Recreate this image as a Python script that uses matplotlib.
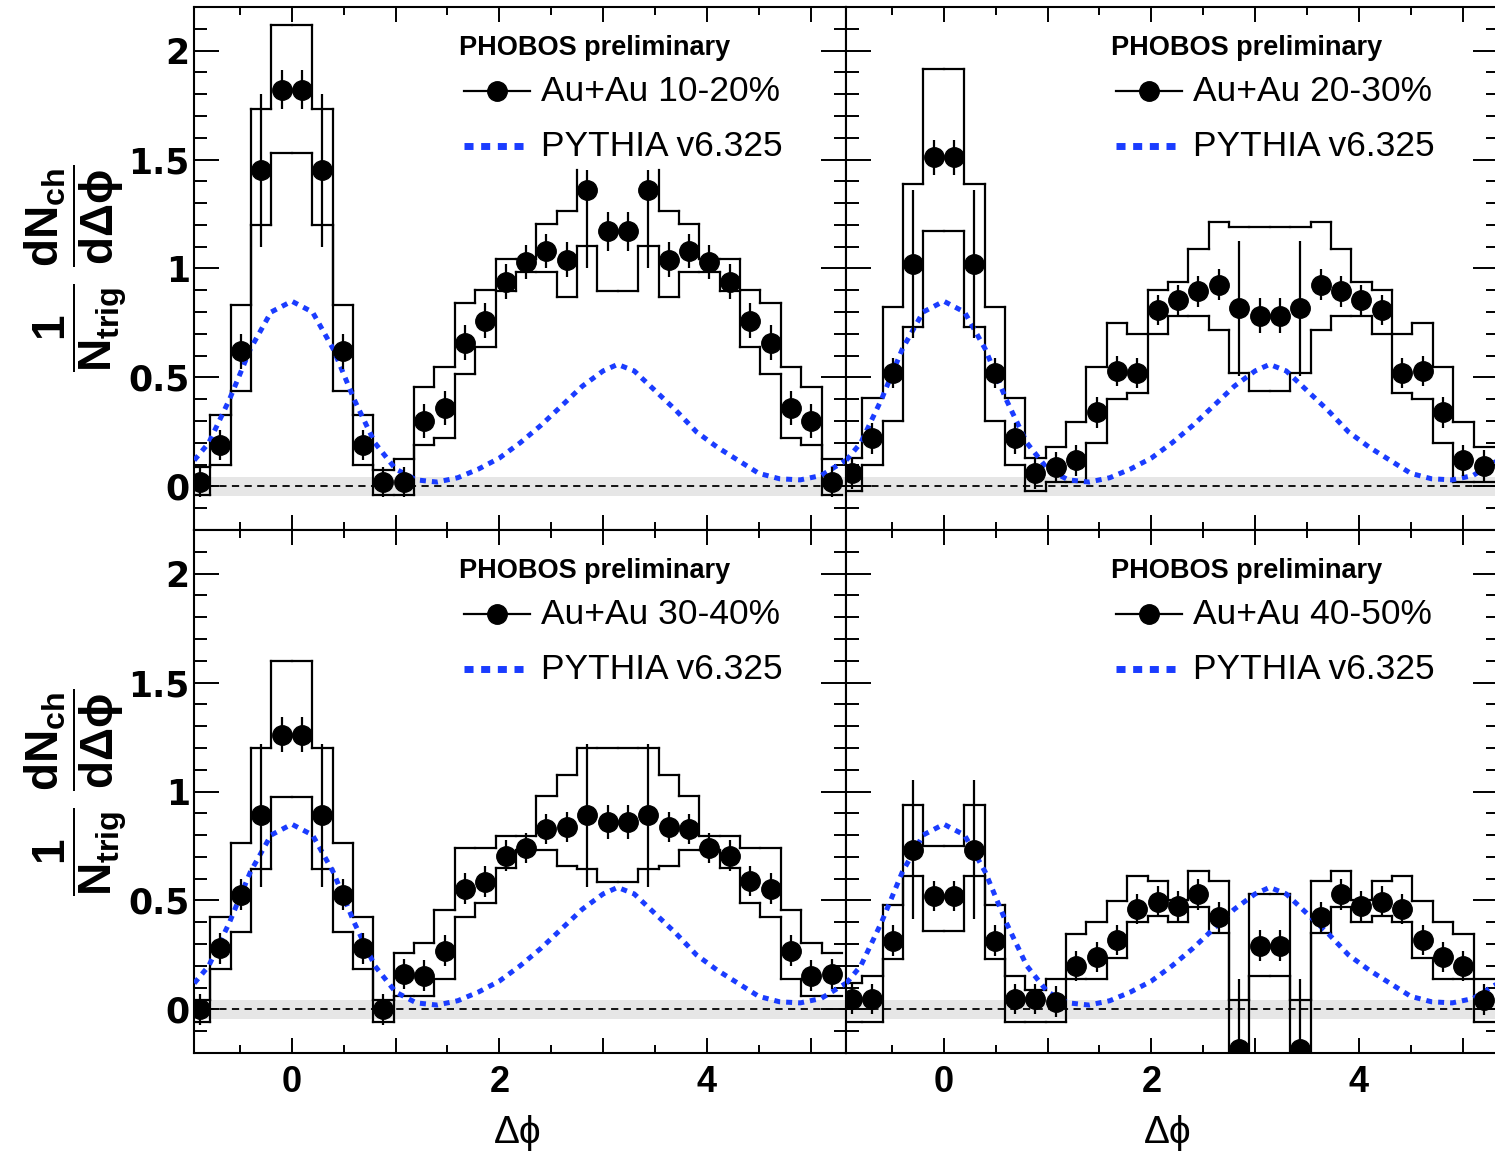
import numpy as np
import matplotlib
matplotlib.use('Agg')
import matplotlib.pyplot as plt
from matplotlib.ticker import MultipleLocator, FuncFormatter

plt.rcParams['font.family'] = ['Liberation Sans', 'DejaVu Sans']
plt.rcParams['mathtext.fontset'] = 'custom'
plt.rcParams['mathtext.rm'] = 'Liberation Sans'
plt.rcParams['mathtext.bf'] = 'Liberation Sans:bold'
plt.rcParams['mathtext.it'] = 'Liberation Sans:italic'

##########################################################################
# data: 32 bins of width pi/16, bin index k = -5 ... 26
##########################################################################
bin_k = np.arange(-5, 27)
edges = np.arange(-5, 28) * np.pi / 16
centers = (bin_k + 0.5) * np.pi / 16

# Au+Au 10-20%
y_1020 = [0.02, 0.19, 0.62, 1.45, 1.82, 1.82, 1.45, 0.62, 0.19, 0.02,
          0.02, 0.30, 0.36, 0.66, 0.76, 0.94, 1.03, 1.08, 1.04, 1.36, 1.17,
          1.17, 1.36, 1.04, 1.08, 1.03, 0.94, 0.76, 0.66, 0.36, 0.30, 0.02]
stat_lo_1020 = [0.07, 0.07, 0.08, 0.35, 0.09, 0.09, 0.35, 0.08, 0.07, 0.07,
                0.07, 0.08, 0.08, 0.08, 0.08, 0.08, 0.08, 0.08, 0.08, 0.36, 0.09,
                0.09, 0.36, 0.08, 0.08, 0.08, 0.08, 0.08, 0.08, 0.08, 0.08, 0.07]
stat_hi_1020 = [0.07, 0.07, 0.08, 0.35, 0.09, 0.09, 0.35, 0.08, 0.07, 0.07,
                0.07, 0.08, 0.08, 0.08, 0.08, 0.08, 0.08, 0.08, 0.08, 0.09, 0.09,
                0.09, 0.09, 0.08, 0.08, 0.08, 0.08, 0.08, 0.08, 0.08, 0.08, 0.07]
sys_hi_1020 = [0.09, 0.327, 0.833, 1.73, 2.116, 2.116, 1.73, 0.833, 0.327, 0.075,
               0.126, 0.454, 0.547, 0.84, 0.90, 1.043, 1.043, 1.203, 1.264, 1.45, 1.45,
               1.45, 1.45, 1.264, 1.203, 1.043, 1.043, 0.90, 0.84, 0.547, 0.454, 0.126]
sys_lo_1020 = [-0.04, 0.098, 0.44, 1.20, 1.528, 1.528, 1.20, 0.44, 0.098, -0.04,
               -0.04, 0.19, 0.22, 0.516, 0.64, 0.898, 0.982, 0.982, 0.868, 1.104, 0.898,
               0.898, 1.104, 0.868, 0.982, 0.982, 0.898, 0.64, 0.516, 0.22, 0.19, -0.04]
# bins whose upper band has no closing top edge
open_top_1020 = [14, 15, 16, 17]

# Au+Au 20-30%
y_2030 = [0.06, 0.22, 0.52, 1.02, 1.51, 1.51, 1.02, 0.52, 0.22, 0.06,
          0.09, 0.12, 0.34, 0.53, 0.52, 0.81, 0.856, 0.895, 0.926, 0.817, 0.783,
          0.783, 0.817, 0.926, 0.895, 0.856, 0.81, 0.52, 0.53, 0.34, 0.12, 0.095]
stat_2030 = [0.07, 0.07, 0.07, 0.34, 0.08, 0.08, 0.34, 0.07, 0.07, 0.07,
             0.07, 0.07, 0.07, 0.07, 0.07, 0.07, 0.07, 0.07, 0.07, 0.31, 0.08,
             0.08, 0.31, 0.07, 0.07, 0.07, 0.07, 0.07, 0.07, 0.07, 0.07, 0.07]
sys_hi_2030 = [0.13, 0.407, 0.822, 1.39, 1.915, 1.915, 1.39, 0.822, 0.407, 0.13,
               0.18, 0.295, 0.55, 0.75, 0.70, 0.90, 0.936, 1.088, 1.215, 1.19, 1.19,
               1.19, 1.19, 1.215, 1.088, 0.936, 0.90, 0.70, 0.75, 0.55, 0.295, 0.18]
sys_lo_2030 = [-0.02, 0.10, 0.30, 0.73, 1.17, 1.17, 0.73, 0.30, 0.10, -0.02,
               0.02, 0.02, 0.20, 0.40, 0.43, 0.70, 0.78, 0.78, 0.72, 0.52, 0.44,
               0.44, 0.52, 0.72, 0.78, 0.78, 0.70, 0.43, 0.40, 0.20, 0.02, 0.02]

# Au+Au 30-40%
y_3040 = [0.0, 0.28, 0.527, 0.89, 1.26, 1.26, 0.89, 0.527, 0.28, 0.0,
          0.163, 0.155, 0.27, 0.554, 0.586, 0.706, 0.741, 0.828, 0.836, 0.89, 0.86,
          0.86, 0.89, 0.836, 0.828, 0.741, 0.706, 0.59, 0.554, 0.27, 0.155, 0.163]
stat_3040 = [0.07, 0.07, 0.07, 0.33, 0.08, 0.08, 0.33, 0.07, 0.07, 0.07,
             0.07, 0.07, 0.07, 0.07, 0.07, 0.07, 0.07, 0.07, 0.07, 0.33, 0.08,
             0.08, 0.33, 0.07, 0.07, 0.07, 0.07, 0.07, 0.07, 0.07, 0.07, 0.07]
sys_hi_3040 = [0.045, 0.424, 0.765, 1.20, 1.60, 1.60, 1.20, 0.765, 0.424, 0.045,
               0.258, 0.305, 0.456, 0.74, 0.74, 0.797, 0.797, 0.978, 1.074, 1.20, 1.20,
               1.20, 1.20, 1.074, 0.978, 0.797, 0.797, 0.74, 0.74, 0.456, 0.305, 0.258]
sys_lo_3040 = [-0.06, 0.187, 0.353, 0.646, 0.974, 0.974, 0.646, 0.353, 0.187, -0.06,
               0.06, 0.06, 0.14, 0.424, 0.49, 0.65, 0.73, 0.73, 0.66, 0.646, 0.583,
               0.583, 0.646, 0.66, 0.73, 0.73, 0.65, 0.49, 0.424, 0.14, 0.06, 0.06]

# Au+Au 40-50%
y_4050 = [0.047, 0.047, 0.316, 0.733, 0.52, 0.52, 0.733, 0.316, 0.047, 0.047,
          0.036, 0.20, 0.24, 0.318, 0.46, 0.495, 0.474, 0.528, 0.425, -0.18, 0.293,
          0.293, -0.18, 0.425, 0.528, 0.474, 0.495, 0.46, 0.318, 0.24, 0.20, 0.045]
stat_4050 = [0.07, 0.07, 0.07, 0.32, 0.07, 0.07, 0.32, 0.07, 0.07, 0.07,
             0.07, 0.07, 0.07, 0.07, 0.07, 0.07, 0.07, 0.07, 0.07, 0.32, 0.07,
             0.07, 0.32, 0.07, 0.07, 0.07, 0.07, 0.07, 0.07, 0.07, 0.07, 0.07]
sys_hi_4050 = [0.12, 0.155, 0.479, 0.939, 0.752, 0.752, 0.939, 0.479, 0.155, 0.09,
               0.14, 0.344, 0.40, 0.497, 0.612, 0.589, 0.50, 0.635, 0.589, 0.045, 0.528,
               0.528, 0.045, 0.589, 0.635, 0.50, 0.589, 0.612, 0.497, 0.40, 0.344, 0.14]
sys_lo_4050 = [-0.06, -0.06, 0.231, 0.614, 0.361, 0.361, 0.614, 0.231, -0.06, -0.06,
               -0.06, 0.14, 0.14, 0.237, 0.40, 0.43, 0.40, 0.47, 0.352, -0.5, 0.155,
               0.155, -0.5, 0.352, 0.47, 0.40, 0.43, 0.40, 0.237, 0.14, 0.14, -0.06]

# PYTHIA v6.325 reference curve
pythia_x = [-0.94, -0.8, -0.6, -0.4, -0.2, 0.0, 0.2, 0.4, 0.6, 0.8, 1.0, 1.2, 1.4,
            1.6, 1.8, 2.0, 2.2, 2.4, 2.6, 2.8, 3.0, 3.14, 3.3, 3.5, 3.7, 3.9, 4.1,
            4.3, 4.5, 4.7, 4.9, 5.1, 5.34]
pythia_y = [0.12, 0.20, 0.40, 0.63, 0.80, 0.85, 0.80, 0.63, 0.40, 0.20, 0.08, 0.03, 0.02,
            0.04, 0.08, 0.13, 0.20, 0.28, 0.37, 0.46, 0.53, 0.56, 0.53, 0.44, 0.35, 0.25, 0.18,
            0.12, 0.06, 0.035, 0.03, 0.05, 0.12]

labels = ['Au+Au 10-20%', 'Au+Au 20-30%', 'Au+Au 30-40%', 'Au+Au 40-50%']

BLUE = '#1a3cff'


############################################################################
# helpers
############################################################################
def outline(ax, vals, open_top=()):
    # step outline of a systematic band: bin tops plus risers between bins
    vals = np.asarray(vals)
    skip = [k + 5 for k in open_top]
    keep = [i for i in range(len(vals)) if i not in skip]
    h = ax.hlines(vals[keep], edges[:-1][keep], edges[1:][keep], color='k',
                  lw=1.6, zorder=2)
    v = ax.vlines(edges[1:-1], vals[:-1], vals[1:], color='k', lw=1.6, zorder=2)
    h.set_capstyle('projecting')
    v.set_capstyle('projecting')


def draw_panel(ax, y, err_lo, err_hi, s_hi, s_lo, label, show_x, show_y,
               open_top=()):

    ax.axhspan(-0.045, 0.045, color='#e6e6e6', lw=0, zorder=0)
    ax.axhline(0, color='k', lw=1.3, ls=(0, (4, 3)), zorder=1)

    outline(ax, s_hi, open_top)
    outline(ax, s_lo)

    ax.plot(pythia_x, pythia_y, color=BLUE, lw=3.6, dashes=(1.2, 1.2),
            dash_capstyle='butt', zorder=3)

    ax.errorbar(centers, y, yerr=[err_lo, err_hi], fmt='o', color='k', ms=14,
                elinewidth=1.6, capsize=0, zorder=4)

    ax.set_xlim(-0.3 * np.pi, 1.7 * np.pi)
    ax.set_ylim(-0.2, 2.2)

    # legend drawn by hand
    tr = ax.transAxes
    ax.text(0.406, 0.922, 'PHOBOS preliminary', transform=tr, fontsize=19.5,
            fontweight='bold', va='center', ha='left')
    ax.plot([0.414, 0.515], [0.839, 0.839], color='k', lw=1.6, transform=tr)
    ax.plot([0.4645], [0.839], 'o', color='k', ms=14, transform=tr)
    ax.text(0.532, 0.839, label, transform=tr, fontsize=25.5, va='center', ha='left')
    ax.plot([0.414, 0.515], [0.734, 0.734], color=BLUE, lw=5, dashes=(1.3, 1.1),
            dash_capstyle='butt', transform=tr)
    ax.text(0.532, 0.734, 'PYTHIA v6.325', transform=tr, fontsize=25.5,
            va='center', ha='left')

    # ROOT like ticks on all four sides
    ax.xaxis.set_major_locator(MultipleLocator(1))
    ax.xaxis.set_minor_locator(MultipleLocator(0.5))
    ax.yaxis.set_major_locator(MultipleLocator(0.5))
    ax.yaxis.set_minor_locator(MultipleLocator(0.1))
    ax.tick_params(direction='in', which='both', top=True, right=True, width=1.4)
    ax.tick_params(axis='x', which='major', length=10.5, pad=9)
    ax.tick_params(axis='x', which='minor', length=5.5)
    ax.tick_params(axis='y', which='major', length=18, pad=3)
    ax.tick_params(axis='y', which='minor', length=9)
    for sp in ax.spines.values():
        sp.set_linewidth(1.5)

    ax.xaxis.set_major_formatter(FuncFormatter(
        lambda v, p: '%d' % round(v) if round(v) % 2 == 0 else ''))
    ax.yaxis.set_major_formatter(FuncFormatter(lambda v, p: '%g' % v))
    for t in ax.get_xticklabels():
        t.set_fontweight('bold')
        t.set_fontsize(26)
    for t in ax.get_yticklabels():
        t.set_family('DejaVu Sans')
        t.set_fontweight('bold')
        t.set_fontsize(25)
    if not show_x:
        ax.tick_params(axis='x', labelbottom=False)
    if not show_y:
        ax.tick_params(axis='y', labelleft=False)


############################################################################
# make figure
############################################################################
fig = plt.figure(figsize=(14.95, 11.58), dpi=100)

W, H = 652 / 1495, 523 / 1158
x_left, x_right = 194 / 1495, 846 / 1495
y_top, y_bot = 1 - 530 / 1158, 1 - 1053 / 1158

ax1 = fig.add_axes([x_left, y_top, W, H])
ax2 = fig.add_axes([x_right, y_top, W, H])
ax3 = fig.add_axes([x_left, y_bot, W, H])
ax4 = fig.add_axes([x_right, y_bot, W, H])

draw_panel(ax1, y_1020, stat_lo_1020, stat_hi_1020, sys_hi_1020, sys_lo_1020,
           labels[0], False, True, open_top_1020)
draw_panel(ax2, y_2030, stat_2030, stat_2030, sys_hi_2030, sys_lo_2030,
           labels[1], False, False)
draw_panel(ax3, y_3040, stat_3040, stat_3040, sys_hi_3040, sys_lo_3040,
           labels[2], True, True)
draw_panel(ax4, y_4050, stat_4050, stat_4050, sys_hi_4050, sys_lo_4050,
           labels[3], True, False)

# axis titles
ylab = r'$\dfrac{\mathbf{1}}{\mathbf{N}_{\mathbf{trig}}}\ \dfrac{\mathbf{dN}_{\mathbf{ch}}}{\mathbf{d\Delta\phi}}$'
fig.text(0.051, 1 - 268 / 1158, ylab, rotation=90, fontsize=33,
         ha='center', va='center')
fig.text(0.051, 1 - 792 / 1158, ylab, rotation=90, fontsize=33,
         ha='center', va='center')
fig.text(518 / 1495, 1 - 1133 / 1158, 'Δϕ', fontsize=28, ha='center', va='center')
fig.text(1168 / 1495, 1 - 1133 / 1158, 'Δϕ', fontsize=28, ha='center', va='center')

fig.savefig('out.png', dpi=100)
